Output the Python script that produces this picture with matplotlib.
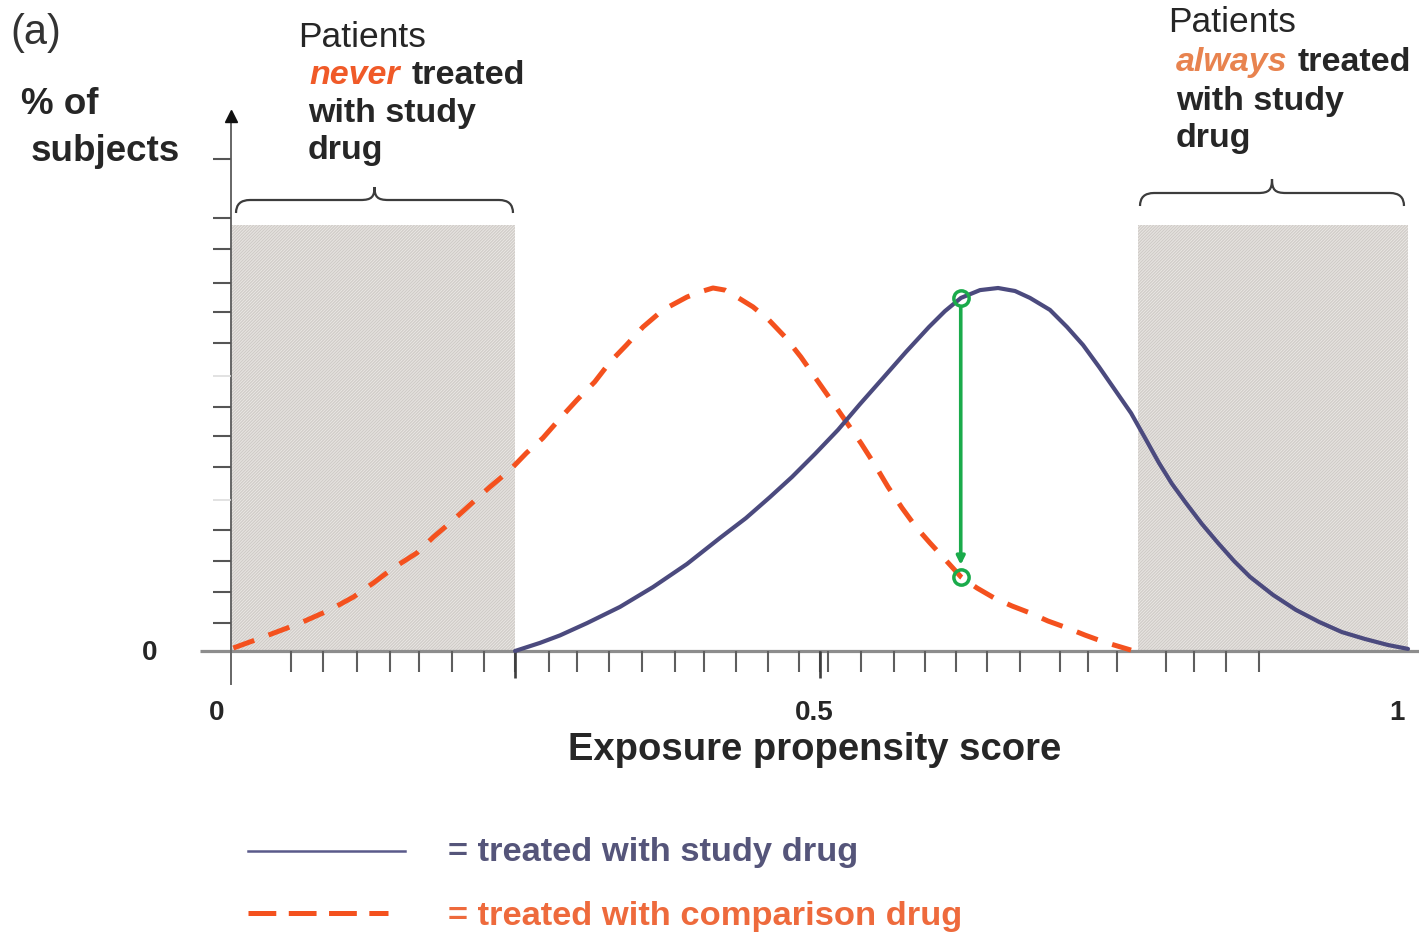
import matplotlib
matplotlib.use('Agg')
import matplotlib.pyplot as plt
from matplotlib.patches import Rectangle, PathPatch
from matplotlib.path import Path

plt.rcParams['font.family'] = ['Liberation Sans', 'DejaVu Sans']
plt.rcParams['lines.scale_dashes'] = False
plt.rcParams['hatch.linewidth'] = 0.9

# ---------------- data ----------------
study_x = [0.2413, 0.2625, 0.2795, 0.3025, 0.3305, 0.3585, 0.3874, 0.4155, 0.4375, 0.4579,
           0.4766, 0.4962, 0.5157, 0.5344, 0.5540, 0.5735, 0.5930, 0.6066, 0.6202, 0.6364,
           0.6517, 0.6661, 0.6788, 0.6958, 0.7103, 0.7239, 0.7375, 0.7511, 0.7647, 0.7766,
           0.7884, 0.7995, 0.8114, 0.8250, 0.8386, 0.8522, 0.8658, 0.8853, 0.9048, 0.9244,
           0.9439, 0.9635, 0.9830, 1.0000]
study_y = [0.0, 0.27, 0.52, 0.93, 1.47, 2.13, 2.9, 3.77, 4.43, 5.13,
           5.8, 6.57, 7.37, 8.23, 9.1, 9.97, 10.8, 11.33, 11.77, 12.03,
           12.1, 12.0, 11.77, 11.37, 10.8, 10.2, 9.47, 8.7, 7.93, 7.1,
           6.27, 5.57, 4.93, 4.23, 3.6, 3.0, 2.47, 1.87, 1.37, 0.97,
           0.63, 0.4, 0.2, 0.07]

comp_x = [0.002, 0.025, 0.048, 0.061, 0.084, 0.104, 0.121, 0.138, 0.158, 0.172,
          0.189, 0.203, 0.220, 0.237, 0.251, 0.265, 0.280, 0.294, 0.309, 0.322,
          0.336, 0.350, 0.367, 0.3874, 0.3985, 0.4095, 0.4197, 0.4299, 0.4435, 0.4571,
          0.4707, 0.4842, 0.4979, 0.5115, 0.5234, 0.5352, 0.5471, 0.5582, 0.5701, 0.5820,
          0.5939, 0.6049, 0.6202, 0.6338, 0.6483, 0.6636, 0.6788, 0.6941, 0.7103, 0.7256,
          0.7417, 0.7647]
comp_y = [0.1, 0.43, 0.77, 0.97, 1.37, 1.8, 2.27, 2.77, 3.27, 3.8,
          4.37, 4.87, 5.47, 6.03, 6.6, 7.1, 7.77, 8.37, 8.97, 9.63,
          10.2, 10.8, 11.37, 11.8, 11.97, 12.1, 12.03, 11.8, 11.47, 11.03,
          10.47, 9.8, 9.03, 8.27, 7.6, 6.93, 6.2, 5.47, 4.77, 4.13,
          3.6, 3.13, 2.47, 2.1, 1.77, 1.5, 1.27, 1.0, 0.77, 0.53,
          0.3, 0.03]

x_ticks = [0.051, 0.0785, 0.107, 0.135, 0.160, 0.188, 0.215, 0.241, 0.270, 0.294,
           0.321, 0.349, 0.377, 0.402, 0.429, 0.456, 0.483, 0.500, 0.507, 0.535,
           0.563, 0.590, 0.616, 0.642, 0.670, 0.704, 0.728, 0.753, 0.794, 0.818,
           0.845, 0.873]
x_major_ticks = [0.241, 0.500]
y_ticks = [0.93, 1.96, 3.01, 4.02, 6.14, 7.17, 8.14, 10.26, 11.29,
           12.27, 13.39, 14.43, 16.4]
y_faint_ticks = [5.05, 9.17]
x_tick_vals = [0, 0.5, 1]
x_tick_labels = ['0', '0.5', '1']

never_region = (0.0, 0.241)
always_region = (0.771, 0.9996)
region_top = 14.2
marker_x = 0.620
marker_top = 11.77
marker_bottom = 2.47

# ---------------- figure ----------------
W, H = 1419, 936
fig = plt.figure(figsize=(W / 100, H / 100), dpi=100)
ax = fig.add_axes([0, 0, 1, 1])
X0, XS, Y0, YS = 231, 1177, 651, 30
ax.set_xlim(-X0 / XS, (W - X0) / XS)
ax.set_ylim((Y0 - H) / YS, Y0 / YS)
ax.axis('off')


def px(v):
    return (v - X0) / XS


def py(v):
    return (Y0 - v) / YS


BLUE = '#4b4a7e'
ORANGE = '#f4511e'
GREEN = '#1aab4b'
TXT = '#262626'

# shaded regions
for (a, b) in (never_region, always_region):
    ax.add_patch(Rectangle((a, 0), b - a, region_top, facecolor='#ebe8e5',
                           edgecolor='#d0ccc8', hatch='/' * 11, lw=0, zorder=1))


# braces
def brace(x0p, x1p, base, end, peak):
    xm = (x0p + x1p) / 2
    r = 14
    pts = [(x0p, end), (x0p, base), (x0p + r, base), (x0p + r + 3, base),
           (xm - r, base), (xm - 3, base), (xm, base - 3), (xm, peak),
           (xm, base - 3), (xm + 3, base), (xm + r, base),
           (x1p - r - 3, base), (x1p - r, base), (x1p, base), (x1p, end)]
    codes = [Path.MOVETO, Path.CURVE3, Path.CURVE3, Path.LINETO,
             Path.LINETO, Path.CURVE4, Path.CURVE4, Path.CURVE4,
             Path.CURVE4, Path.CURVE4, Path.CURVE4,
             Path.LINETO, Path.LINETO, Path.CURVE3, Path.CURVE3]
    verts = [(px(x), py(y)) for x, y in pts]
    ax.add_patch(PathPatch(Path(verts, codes), fill=False, edgecolor='#3c3c3c',
                           lw=1.6, zorder=3))


brace(236, 513, 200, 213, 187)
brace(1140, 1404, 193, 206, 179)

# axes lines
ax.plot([px(200), px(1419)], [0, 0], color='#8d8d8d', lw=2.3, zorder=2,
        solid_capstyle='butt')
ax.plot([0, 0], [py(684), py(118)], color='#666666', lw=1.4, zorder=2)
ax.plot([0], [py(116)], marker='^', color='#111111', ms=8, zorder=4)

# ticks
ax.vlines(x_ticks, py(672), 0, color='#5e5e5e', lw=1.5, zorder=2)
ax.vlines(x_major_ticks, py(678), 0, color='#3e3e3e', lw=1.9, zorder=2)
ax.hlines(y_ticks, px(213), 0, color='#555555', lw=1.5, zorder=2)
ax.hlines(y_faint_ticks, px(213), 0, color='#dddddd', lw=1.2, zorder=2)

# curves
ax.plot(comp_x, comp_y, color=ORANGE, lw=3.6, dashes=(16, 11),
        dash_capstyle='butt', dash_joinstyle='round', zorder=5)
ax.plot(study_x, study_y, color=BLUE, lw=3.0, zorder=5,
        solid_capstyle='round', solid_joinstyle='round')

# green arrow with circles
ax.annotate('', xy=(marker_x, marker_bottom + 0.4), xytext=(marker_x, marker_top - 0.3),
            arrowprops=dict(arrowstyle='-|>', color=GREEN, lw=2.6,
                            mutation_scale=12, shrinkA=0, shrinkB=0), zorder=6)
ax.plot([marker_x, marker_x], [marker_top, marker_bottom], ls='none', marker='o',
        ms=11, mfc='none', mec=GREEN, mew=2.5, zorder=7)

# tick labels
for v, lab in zip(x_tick_vals, x_tick_labels):
    off = {0: -14, 0.5: -5, 1: -11}[v]
    ax.text(v + off / XS, py(713), lab, ha='center', va='center',
            fontsize=20, fontweight='bold', color=TXT)
ax.text(px(150), py(653), '0', ha='center', va='center', fontsize=20,
        fontweight='bold', color=TXT)

ax.text(px(815), py(750), 'Exposure propensity score', ha='center', va='center',
        fontsize=27.5, fontweight='bold', color=TXT)

# y label
ax.text(px(21), py(114), '% of', ha='left', va='baseline', fontsize=26.5,
        fontweight='bold', color=TXT)
ax.text(px(31), py(161), 'subjects', ha='left', va='baseline', fontsize=26.5,
        fontweight='bold', color=TXT)

# panel tag
ax.text(px(10), py(44), '(a)', ha='left', va='baseline', fontsize=30,
        color='#333333')

# annotations left
FS = 24.5
ax.text(px(298), py(47), 'Patients', ha='left', va='baseline', fontsize=FS + 1,
        color=TXT)
ax.text(px(309), py(84), 'never', ha='left', va='baseline', fontsize=FS,
        fontweight='bold', fontstyle='italic', color='#f05a28')
ax.text(px(412), py(84), 'treated', ha='left', va='baseline', fontsize=FS,
        fontweight='bold', color=TXT)
ax.text(px(308), py(122), 'with study', ha='left', va='baseline', fontsize=FS,
        fontweight='bold', color=TXT)
ax.text(px(308), py(159), 'drug', ha='left', va='baseline', fontsize=FS,
        fontweight='bold', color=TXT)

# annotations right
ax.text(px(1168), py(32), 'Patients', ha='left', va='baseline', fontsize=FS + 1,
        color=TXT)
ax.text(px(1176), py(71), 'always', ha='left', va='baseline', fontsize=FS,
        fontweight='bold', fontstyle='italic', color='#e8834f')
ax.text(px(1298), py(71), 'treated', ha='left', va='baseline', fontsize=FS,
        fontweight='bold', color=TXT)
ax.text(px(1176), py(110), 'with study', ha='left', va='baseline', fontsize=FS,
        fontweight='bold', color=TXT)
ax.text(px(1176), py(147), 'drug', ha='left', va='baseline', fontsize=FS,
        fontweight='bold', color=TXT)

# legend
ax.plot([px(248), px(405)], [py(851), py(851)], color='#5a5a8a', lw=1.8)
ax.text(px(448), py(853), '= treated with study drug', ha='left', va='center',
        fontsize=24.8, fontweight='bold', color='#55557a')
ax.plot([px(248), px(388)], [py(913), py(913)], color=ORANGE, lw=3.6,
        dashes=(20, 9), dash_capstyle='butt')
ax.text(px(448), py(917), '= treated with comparison drug', ha='left', va='center',
        fontsize=24.8, fontweight='bold', color='#ee6a3c')

fig.savefig('out.png', dpi=100)
